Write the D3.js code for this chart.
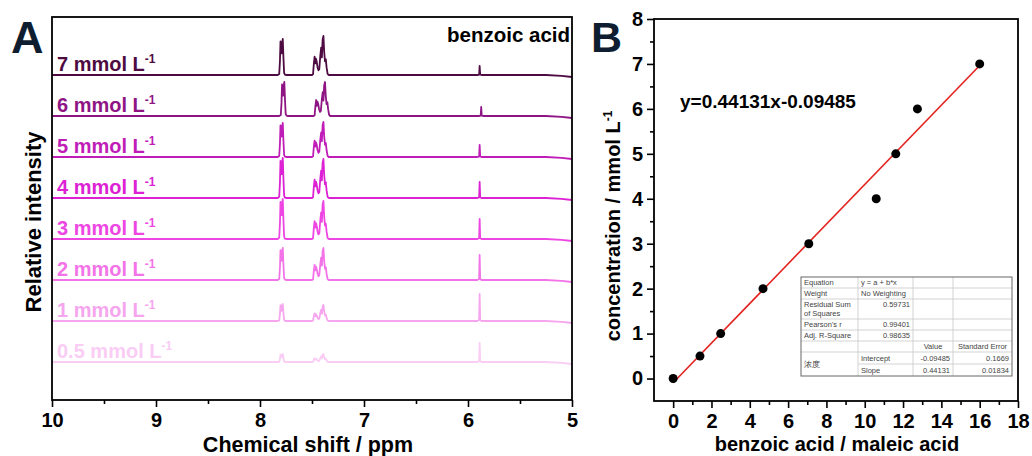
<!DOCTYPE html>
<html><head><meta charset="utf-8">
<script src="https://cdn.jsdelivr.net/npm/d3@7"></script>
<style>
body{margin:0;background:#fff;}
svg{display:block;font-family:"Liberation Sans",Arial,Helvetica,sans-serif;}
</style></head><body>
<svg id="c" width="1032" height="456"></svg>
<script>
// ---------------- DATA ----------------
// Panel A: 1H NMR spectra (top to bottom)
const concLabels = ["7", "6", "5", "4", "3", "2", "1", "0.5"];
const doubletHeights = [36, 34, 34, 40, 40, 32, 17, 8];     // benzoic acid ~7.79 ppm
const multipletHeights = [39, 34, 35, 39, 38, 32, 16, 8];   // benzoic acid ~7.4 ppm
const maleicHeights = [9, 9, 12, 16, 20, 25, 27, 19];       // maleic acid ~5.89 ppm
const peakShifts = [0, -0.015, 0, 0, 0, 0, 0, 0];
const doubletShape = [[7.83,0],[7.815,0.03],[7.808,0.4],[7.803,0.93],[7.797,0.85],[7.792,0.6],[7.787,0.9],[7.781,1.0],[7.775,0.5],[7.768,0.06],[7.76,0.01],[7.75,0]];
const multipletShape = [[7.50,0],[7.49,0.02],[7.482,0.3],[7.475,0.47],[7.468,0.3],[7.462,0.42],[7.455,0.35],[7.447,0.2],[7.438,0.12],[7.43,0.15],[7.42,0.5],[7.412,0.7],[7.405,0.45],[7.398,0.9],[7.39,1.0],[7.383,0.6],[7.375,0.35],[7.367,0.4],[7.36,0.2],[7.35,0.03],[7.34,0]];
const singletShape = [[5.91,0],[5.893,0.04],[5.888,1.0],[5.883,0.04],[5.87,0]];
const baselinePoints = [[10,0],[5.25,0],[5.1,-0.8],[5.0,-2]];
const ppmTicks = [10, 9, 8, 7, 6, 5];
const ppmMinorTicks = [9.5, 8.5, 7.5, 6.5, 5.5];

// Panel B: calibration
const ratioValues = [0, 1.4, 2.48, 4.69, 7.08, 10.6, 11.62, 12.75, 16.0];
const concValues = [0, 0.5, 1, 2, 3, 4, 5, 6, 7];
const fitSlope = 0.44131;
const fitIntercept = -0.09485;
const fitRange = [0, 16];
const ratioTicks = [0, 2, 4, 6, 8, 10, 12, 14, 16, 18];
const ratioMinorTicks = [1, 3, 5, 7, 9, 11, 13, 15, 17];
const concTicks = [0, 1, 2, 3, 4, 5, 6, 7, 8];
const concMinorTicks = [0.5, 1.5, 2.5, 3.5, 4.5, 5.5, 6.5, 7.5];

// Fit table
const tableRows = [
  ["Equation", "y = a + b*x", "", ""],
  ["Weight", "No Weighting", "", ""],
  ["Residual Sum|of Squares", "0.59731", "", ""],
  ["Pearson's r", "0.99401", "", ""],
  ["Adj. R-Square", "0.98635", "", ""],
  ["", "", "Value", "Standard Error"],
  ["浓度", "Intercept", "-0.09485", "0.1669"],
  ["", "Slope", "0.44131", "0.01834"]
];

// ---------------- STYLE ----------------
const spectrumColors = ["#4e0b42","#8f1585","#c01db8","#dc22d4","#ee46e3","#f374e8","#f6a6ee","#f9cdf4"];
const svg = d3.select("#c");

// ---------------- PANEL A ----------------
const A = {l: 52, r: 572, t: 17, b: 400};
const xA = d3.scaleLinear().domain([10, 5]).range([A.l, A.r]);
const yA = d3.scaleLinear().domain([0, A.b - A.t]).range([A.b, A.t]);
const stackStart = 38, stackStep = 41;

const line = d3.line().x(d => xA(d[0])).y(d => yA(d[1]));
concLabels.forEach((c, i) => {
  const k = concLabels.length - 1 - i;
  const off = stackStart + k * stackStep;
  const s = peakShifts[i];
  const pts = [];
  baselinePoints.forEach(p => pts.push([p[0], p[1]]));
  doubletShape.forEach(p => pts.push([p[0] + s, p[1] * doubletHeights[i]]));
  multipletShape.forEach(p => pts.push([p[0] + s, p[1] * multipletHeights[i]]));
  singletShape.forEach(p => pts.push([p[0] + s, p[1] * maleicHeights[i]]));
  pts.sort((a, b) => b[0] - a[0]);
  const data = pts.map(p => [p[0], p[1] + off]);
  svg.append("path").attr("d", line(data)).attr("fill", "none")
    .attr("stroke", spectrumColors[i]).attr("stroke-width", 1.8).attr("stroke-linejoin", "round");
  const t = svg.append("text").attr("x", 57).attr("y", yA(off) - 4)
    .attr("font-size", 20).attr("font-weight", "bold").attr("fill", spectrumColors[i]);
  t.append("tspan").text(c + " mmol L");
  t.append("tspan").attr("dy", -8).attr("font-size", 12).text("-1");
});

svg.append("rect").attr("x", A.l).attr("y", A.t).attr("width", A.r - A.l).attr("height", A.b - A.t)
  .attr("fill", "none").attr("stroke", "#000").attr("stroke-width", 1.8);

const axA = svg.append("g").attr("transform", `translate(0,${A.b})`)
  .call(d3.axisBottom(xA).tickValues(ppmTicks).tickSize(7).tickPadding(6).tickFormat(d3.format("d")));
const axAm = svg.append("g").attr("transform", `translate(0,${A.b})`)
  .call(d3.axisBottom(xA).tickValues(ppmMinorTicks).tickSize(4).tickFormat(""));
[axA, axAm].forEach(g => { g.select(".domain").remove(); g.selectAll("line").attr("stroke", "#000").attr("stroke-width", 1.6); });
axA.selectAll("text").attr("font-size", 20).attr("font-weight", "bold").attr("fill", "#000")
  .attr("font-family", "'Liberation Sans',Arial,sans-serif");

svg.append("text").attr("x", 308).attr("y", 452).attr("text-anchor", "middle")
  .attr("font-size", 21.5).attr("font-weight", "bold").text("Chemical shift / ppm");
svg.append("text").attr("transform", "translate(41,222) rotate(-90)").attr("text-anchor", "middle")
  .attr("font-size", 22).attr("font-weight", "bold").text("Relative intensity");
svg.append("text").attr("x", 570).attr("y", 42).attr("text-anchor", "end")
  .attr("font-size", 20.5).attr("font-weight", "bold").text("benzoic acid");
svg.append("text").attr("x", 11).attr("y", 53).attr("font-size", 45).attr("font-weight", "bold")
  .attr("fill", "#0f1d30").text("A");

// ---------------- PANEL B ----------------
const B = {l: 654, r: 1018, t: 19, b: 401};
const xB = d3.scaleLinear().domain([-1, 18]).range([B.l, B.r]);
const yB = d3.scaleLinear().domain([-0.5, 8]).range([B.b, B.t]);

svg.append("rect").attr("x", B.l).attr("y", B.t).attr("width", B.r - B.l).attr("height", B.b - B.t)
  .attr("fill", "none").attr("stroke", "#000").attr("stroke-width", 1.8);

const axBx = svg.append("g").attr("transform", `translate(0,${B.b})`)
  .call(d3.axisBottom(xB).tickValues(ratioTicks).tickSize(7).tickPadding(6).tickFormat(d3.format("d")));
const axBxm = svg.append("g").attr("transform", `translate(0,${B.b})`)
  .call(d3.axisBottom(xB).tickValues(ratioMinorTicks).tickSize(4).tickFormat(""));
const axBy = svg.append("g").attr("transform", `translate(${B.l},0)`)
  .call(d3.axisLeft(yB).tickValues(concTicks).tickSize(7).tickPadding(4).tickFormat(d3.format("d")));
const axBym = svg.append("g").attr("transform", `translate(${B.l},0)`)
  .call(d3.axisLeft(yB).tickValues(concMinorTicks).tickSize(4).tickFormat(""));
[axBx, axBxm, axBy, axBym].forEach(g => { g.select(".domain").remove(); g.selectAll("line").attr("stroke", "#000").attr("stroke-width", 1.6); });
[axBx, axBy].forEach(g => g.selectAll("text").attr("font-size", 20).attr("font-weight", "bold").attr("fill", "#000")
  .attr("font-family", "'Liberation Sans',Arial,sans-serif"));

// fit line
svg.append("line")
  .attr("x1", xB(fitRange[0])).attr("y1", yB(fitSlope * fitRange[0] + fitIntercept))
  .attr("x2", xB(fitRange[1])).attr("y2", yB(fitSlope * fitRange[1] + fitIntercept))
  .attr("stroke", "#e3231f").attr("stroke-width", 1.6);

// points
svg.append("g").selectAll("circle").data(ratioValues).join("circle")
  .attr("cx", d => xB(d)).attr("cy", (d, i) => yB(concValues[i])).attr("r", 4.5).attr("fill", "#000");

svg.append("text").attr("x", 680).attr("y", 108).attr("font-size", 19).attr("font-weight", "bold")
  .text("y=" + fitSlope + "x" + fitIntercept);

svg.append("text").attr("x", 837).attr("y", 451).attr("text-anchor", "middle")
  .attr("font-size", 20).attr("font-weight", "bold").text("benzoic acid / maleic acid");
const yt = svg.append("text").attr("transform", "translate(620,226) rotate(-90)").attr("text-anchor", "middle")
  .attr("font-size", 20).attr("font-weight", "bold");
yt.append("tspan").text("concentration / mmol L");
yt.append("tspan").attr("dy", -8).attr("font-size", 12).text("-1");
svg.append("text").attr("x", 591).attr("y", 52).attr("font-size", 43).attr("font-weight", "bold")
  .attr("fill", "#0f1d30").text("B");

// table
const colX = [801, 858, 913, 953, 1012];
const rowH = [11, 11, 20, 11, 11, 11, 12, 12];
const rowY = [277];
rowH.forEach((h, i) => rowY.push(rowY[i] + h));
const tg = svg.append("g").attr("font-size", 7.5).attr("fill", "#444");
tg.append("rect").attr("x", colX[0]).attr("y", rowY[0]).attr("width", colX[4] - colX[0])
  .attr("height", rowY[8] - rowY[0]).attr("fill", "#fff");
for (let r = 1; r < 8; r++) {
  const x0 = (r === 7) ? colX[1] : colX[0];
  tg.append("line").attr("x1", x0).attr("x2", colX[4]).attr("y1", rowY[r]).attr("y2", rowY[r])
    .attr("stroke", "#c8c8c8").attr("stroke-width", 0.8);
}
for (let c = 1; c < 4; c++) {
  tg.append("line").attr("x1", colX[c]).attr("x2", colX[c]).attr("y1", rowY[0]).attr("y2", rowY[8])
    .attr("stroke", "#c8c8c8").attr("stroke-width", 0.8);
}
tg.append("rect").attr("x", colX[0]).attr("y", rowY[0]).attr("width", colX[4] - colX[0])
  .attr("height", rowY[8] - rowY[0]).attr("fill", "none").attr("stroke", "#666").attr("stroke-width", 1);
tableRows.forEach((row, r) => {
  row.forEach((cell, c) => {
    if (!cell) return;
    const lines = cell.split("|");
    const numeric = /^-?[0-9.]+$/.test(cell);
    const centered = (r === 5);
    let x, anchor;
    if (centered) { x = (colX[c] + colX[c + 1]) / 2; anchor = "middle"; }
    else if (numeric) { x = colX[c + 1] - 3; anchor = "end"; }
    else { x = colX[c] + 3; anchor = "start"; }
    let yc = (rowY[r] + rowY[r + 1]) / 2;
    if (r === 6 && c === 0) yc = (rowY[6] + rowY[8]) / 2;
    if (numeric && r >= 2 && r <= 4) yc = rowY[r] + 5.5;
    lines.forEach((ln, j) => {
      tg.append("text").attr("x", x).attr("y", yc + 2.7 + (j - (lines.length - 1) / 2) * 8.5)
        .attr("text-anchor", anchor).text(ln);
    });
  });
});
</script>
</body></html>
